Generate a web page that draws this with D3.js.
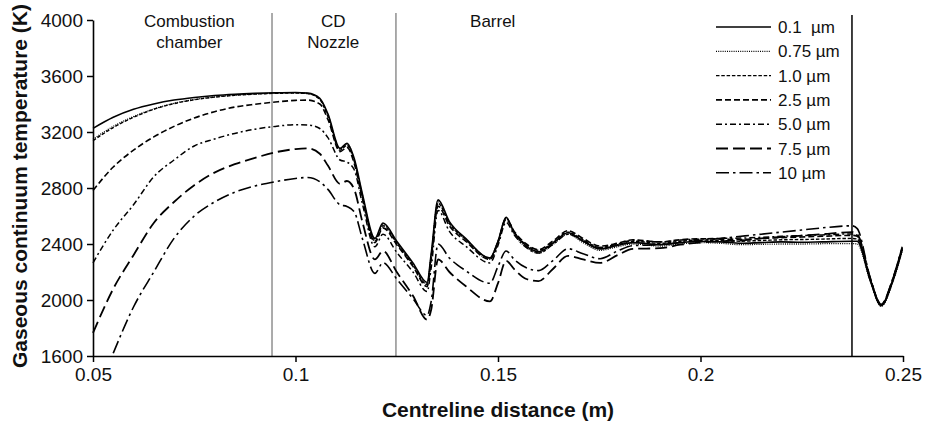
<!DOCTYPE html>
<html>
<head>
<meta charset="utf-8">
<script src="https://cdn.jsdelivr.net/npm/d3@7"></script>
<style>
  html, body { margin: 0; padding: 0; background: #fff; }
  svg { display: block; font-family: "Liberation Sans", Arial, Helvetica, sans-serif; }
</style>
</head>
<body>
<script>
// ---------------- data ----------------
const xs = [0.05, 0.055, 0.06, 0.065, 0.07, 0.075, 0.08, 0.085, 0.09, 0.095, 0.1, 0.103, 0.106, 0.108, 0.111, 0.1127, 0.1145, 0.1165, 0.1196, 0.1216, 0.125, 0.129, 0.1325, 0.1335, 0.1352, 0.138, 0.142, 0.148, 0.15, 0.152, 0.154, 0.157, 0.16, 0.1635, 0.1673, 0.171, 0.1752, 0.1795, 0.1833, 0.19, 0.195, 0.2, 0.205, 0.21, 0.215, 0.22, 0.225, 0.23, 0.2374, 0.2387, 0.2419, 0.2446, 0.2475, 0.2498];

const t_0_1 = [3226, 3305, 3362, 3400, 3428, 3447, 3461, 3470, 3476, 3480, 3482, 3478, 3440, 3330, 3083, 3119, 3010, 2760, 2440, 2550, 2420, 2265, 2125, 2330, 2715, 2560, 2440, 2300, 2420, 2590, 2480, 2385, 2345, 2405, 2480, 2420, 2365, 2390, 2410, 2395, 2410, 2420, 2415, 2405, 2410, 2415, 2412, 2415, 2420, 2420, 2140, 1960, 2137, 2360];
const t_0_75 = [3148, 3240, 3310, 3365, 3405, 3432, 3450, 3463, 3472, 3477, 3480, 3476, 3435, 3320, 3080, 3115, 3000, 2750, 2430, 2540, 2410, 2255, 2115, 2320, 2700, 2550, 2430, 2290, 2410, 2580, 2470, 2375, 2335, 2395, 2470, 2410, 2355, 2380, 2400, 2385, 2400, 2410, 2405, 2395, 2398, 2400, 2400, 2402, 2403, 2400, 2135, 1955, 2130, 2350];
const t_1_0 = [3138, 3232, 3305, 3362, 3403, 3430, 3449, 3462, 3471, 3476, 3478, 3474, 3432, 3310, 3070, 3105, 2990, 2740, 2420, 2530, 2405, 2250, 2110, 2310, 2690, 2545, 2435, 2300, 2420, 2585, 2485, 2395, 2355, 2410, 2485, 2430, 2375, 2395, 2420, 2405, 2420, 2428, 2425, 2420, 2425, 2430, 2432, 2435, 2440, 2435, 2145, 1962, 2140, 2365];
const t_2_5 = [2782, 2950, 3070, 3165, 3240, 3300, 3345, 3378, 3398, 3414, 3426, 3428, 3400, 3290, 3060, 3090, 2975, 2725, 2410, 2515, 2395, 2240, 2095, 2290, 2670, 2530, 2420, 2290, 2410, 2575, 2490, 2400, 2360, 2420, 2495, 2440, 2385, 2405, 2430, 2415, 2430, 2438, 2435, 2432, 2440, 2445, 2450, 2455, 2462, 2455, 2150, 1965, 2145, 2370];
const t_5_0 = [2266, 2500, 2680, 2880, 3000, 3100, 3150, 3190, 3220, 3240, 3252, 3250, 3225, 3160, 3000, 2985, 2930, 2690, 2380, 2470, 2340, 2200, 2060, 2230, 2640, 2490, 2385, 2265, 2390, 2555, 2465, 2375, 2335, 2395, 2470, 2425, 2375, 2400, 2425, 2415, 2428, 2435, 2440, 2442, 2448, 2455, 2460, 2465, 2472, 2462, 2152, 1965, 2148, 2372];
const t_7_5 = [1765, 2080, 2320, 2550, 2700, 2820, 2910, 2970, 3015, 3055, 3078, 3083, 3045, 2960, 2830, 2850, 2790, 2560, 2290, 2350, 2200, 2030, 1860, 1930, 2290, 2200, 2100, 1990, 2120, 2280, 2220, 2150, 2135, 2220, 2315, 2290, 2265, 2320, 2365, 2370, 2395, 2410, 2420, 2425, 2440, 2450, 2460, 2470, 2485, 2470, 2155, 1968, 2150, 2375];
const t_10 = [null, 1620, 1950, 2200, 2440, 2600, 2700, 2770, 2815, 2845, 2868, 2875, 2845, 2790, 2680, 2668, 2630, 2440, 2190, 2266, 2150, 2010, 1890, 1990, 2400, 2300, 2210, 2120, 2240, 2350, 2290, 2230, 2210, 2280, 2366, 2330, 2295, 2350, 2388, 2395, 2410, 2425, 2440, 2455, 2470, 2485, 2500, 2515, 2530, 2510, 2160, 1970, 2155, 2380];

const seriesNames = ["0.1  \u00b5m", "0.75 \u00b5m", "1.0 \u00b5m", "2.5 \u00b5m", "5.0 \u00b5m", "7.5 \u00b5m", "10 \u00b5m"];
const seriesValues = [t_0_1, t_0_75, t_1_0, t_2_5, t_5_0, t_7_5, t_10];

const xTicks = [0.05, 0.1, 0.15, 0.2, 0.25];
const xTickLabels = ["0.05", "0.1", "0.15", "0.2", "0.25"];
const yTicks = [1600, 2000, 2400, 2800, 3200, 3600, 4000];
const yTickLabels = ["1600", "2000", "2400", "2800", "3200", "3600", "4000"];

const regionBounds = [0.0942, 0.1248];
const muzzleLine = 0.2374;
const regionLabels = [
  { x: 0.0738, lines: ["Combustion", "chamber"] },
  { x: 0.1093, lines: ["CD", "Nozzle"] },
  { x: 0.1487, lines: ["Barrel"] }
];
const xTitle = "Centreline distance (m)";
const yTitle = "Gaseous continuum temperature (K)";

// ---------------- styles ----------------
const dashes = ["none", "1,1.2", "3.5,1.8", "6,3", "6,3,2,3", "12,5", "13,4,2.5,4"];
const widths = [1.6, 1.3, 1.4, 1.6, 1.5, 1.8, 1.6];

// ---------------- chart ----------------
const W = 925, H = 422;
const svg = d3.select("body").append("svg").attr("width", W).attr("height", H);

const x = d3.scaleLinear().domain([0.05, 0.25]).range([93, 903]);
const y = d3.scaleLinear().domain([1600, 4000]).range([356, 20]);

// region separators
svg.selectAll("line.region").data(regionBounds).join("line")
  .attr("class", "region")
  .attr("x1", d => x(d)).attr("x2", d => x(d))
  .attr("y1", 13).attr("y2", y(1600))
  .attr("stroke", "#8f8f8f").attr("stroke-width", 1.5);

svg.append("line")
  .attr("x1", x(muzzleLine)).attr("x2", x(muzzleLine))
  .attr("y1", 15).attr("y2", y(1600))
  .attr("stroke", "#000").attr("stroke-width", 1.5);

// region labels
regionLabels.forEach(r => {
  const t = svg.append("text")
    .attr("x", x(r.x)).attr("y", 27)
    .attr("text-anchor", "middle")
    .attr("font-size", 17).attr("fill", "#111");
  r.lines.forEach((l, i) => {
    t.append("tspan").attr("x", x(r.x)).attr("dy", i === 0 ? 0 : 21).text(l);
  });
});

// series lines
const line = d3.line()
  .defined(d => d[1] !== null)
  .x(d => x(d[0]))
  .y(d => y(d[1]))
  .curve(d3.curveMonotoneX);

seriesValues.forEach((vals, i) => {
  const pts = xs.map((xv, j) => [xv, vals[j]]);
  svg.append("path")
    .datum(pts)
    .attr("d", line)
    .attr("fill", "none")
    .attr("stroke", "#000")
    .attr("stroke-width", widths[i])
    .attr("stroke-dasharray", dashes[i])
    .attr("stroke-linejoin", "round");
});

// axes
const xAxis = d3.axisBottom(x).tickValues(xTicks)
  .tickFormat((d, i) => xTickLabels[i]).tickSizeInner(6).tickSizeOuter(0).tickPadding(6);
const yAxis = d3.axisLeft(y).tickValues(yTicks)
  .tickFormat((d, i) => yTickLabels[i]).tickSizeInner(6).tickSizeOuter(0).tickPadding(4);

const gx = svg.append("g").attr("transform", `translate(0,${y(1600)})`).call(xAxis);
const gy = svg.append("g").attr("transform", `translate(${x(0.05)},0)`).call(yAxis);
[gx, gy].forEach(g => {
  g.select(".domain").attr("stroke", "#000").attr("stroke-width", 1.6);
  g.selectAll(".tick line").attr("stroke", "#000").attr("stroke-width", 1.5);
  g.selectAll(".tick text").attr("fill", "#111").attr("font-size", 19)
    .attr("font-family", "'Liberation Sans', Arial, Helvetica, sans-serif");
});

// axis titles
svg.append("text")
  .attr("x", (x(0.05) + x(0.25)) / 2).attr("y", 417)
  .attr("text-anchor", "middle").attr("font-weight", "bold")
  .attr("font-size", 21).attr("fill", "#111").text(xTitle);

svg.append("text")
  .attr("transform", `translate(27,186) rotate(-90)`)
  .attr("text-anchor", "middle").attr("font-weight", "bold")
  .attr("font-size", 21).attr("fill", "#111").text(yTitle);

// legend
const legend = svg.append("g");
seriesNames.forEach((name, i) => {
  const ly = 27 + i * 24.3;
  legend.append("line")
    .attr("x1", 716).attr("x2", 771).attr("y1", ly).attr("y2", ly)
    .attr("stroke", "#000").attr("stroke-width", widths[i])
    .attr("stroke-dasharray", dashes[i]);
  legend.append("text")
    .attr("x", 778).attr("y", ly + 6)
    .attr("font-size", 17).attr("fill", "#111")
    .attr("xml:space", "preserve")
    .style("white-space", "pre")
    .text(name);
});
</script>
</body>
</html>
